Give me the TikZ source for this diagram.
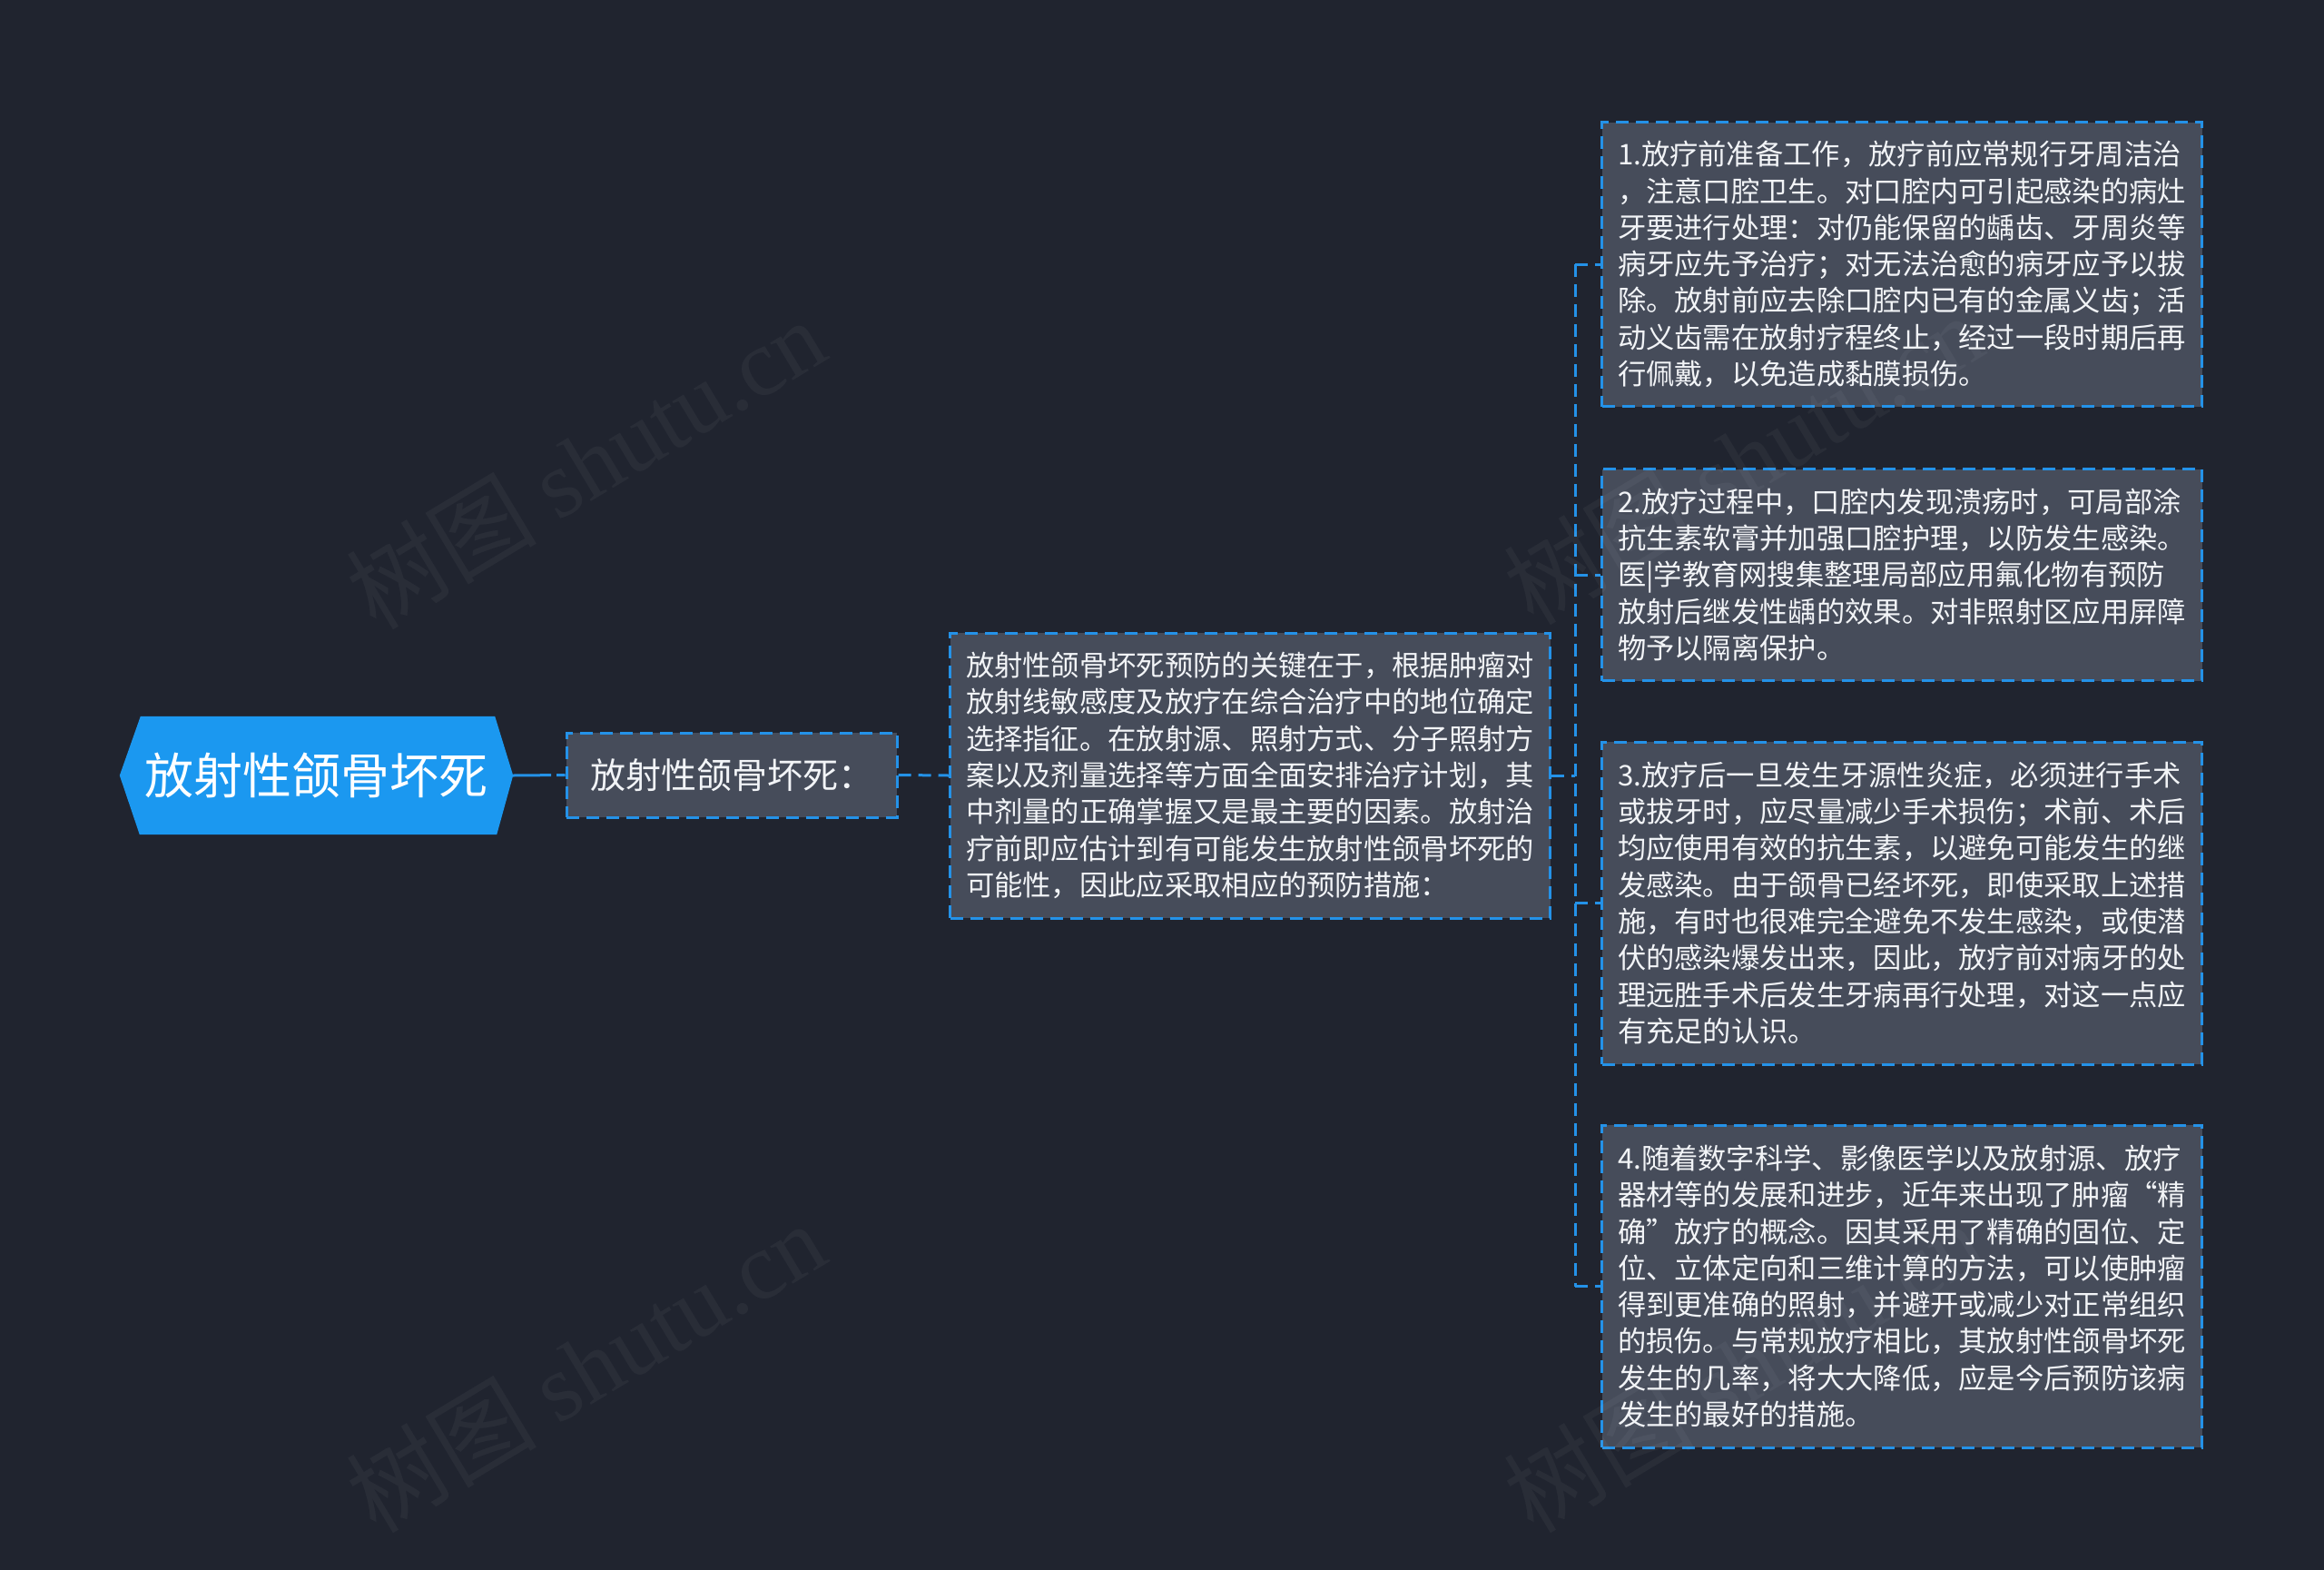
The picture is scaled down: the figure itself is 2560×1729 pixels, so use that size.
\documentclass[tikz,border=0pt]{standalone}
\usepackage{fontspec}
\setmainfont{Noto Sans CJK SC}
\newfontfamily\wmlatin{Liberation Serif}
\usetikzlibrary{backgrounds}
\definecolor{bgc}{RGB}{32,36,47}
\definecolor{boxc}{RGB}{70,76,90}
\definecolor{linec}{RGB}{36,146,232}
\definecolor{rootc}{RGB}{27,152,240}
\definecolor{txtc}{RGB}{242,244,247}
\begin{document}
\begin{tikzpicture}[x=1pt,y=-1pt,
  dashline/.style={draw=linec, line width=3pt, dash pattern=on 14pt off 8pt},
  conn/.style={dashline},
  tbox/.style={dashline, fill=boxc, text=txtc, align=left, inner sep=0pt,
    font=\fontsize{31.3}{40.3}\selectfont, minimum width=661pt},
  rootnode/.style={text=white, inner sep=0pt, font=\fontsize{54}{60}\selectfont,
    minimum width=433pt, minimum height=130pt},
  midbox/.style={dashline, fill=boxc, text=txtc, inner sep=0pt,
    font=\fontsize{39}{44}\selectfont, minimum width=364pt, minimum height=93pt},
  wmark/.style={text=white, opacity=0.045, rotate=31, inner sep=0pt,
    font=\fontsize{105}{110}\selectfont}
]
\useasboundingbox (0,0) rectangle (2560,1729);

% nodes
\node[rootnode] (root) at (348.5,854) {放射性颌骨坏死};
\node[midbox] (n2) at (806,853.5) {放射性颌骨坏死：};
\node[tbox, minimum height=314pt] (n3) at (1377,854) {放射性颌骨坏死预防的关键在于，根据肿瘤对\\
放射线敏感度及放疗在综合治疗中的地位确定\\
选择指征。在放射源、照射方式、分子照射方\\
案以及剂量选择等方面全面安排治疗计划，其\\
中剂量的正确掌握又是最主要的因素。放射治\\
疗前即应估计到有可能发生放射性颌骨坏死的\\
可能性，因此应采取相应的预防措施：};

\node[tbox, minimum height=313pt] (c1) at (2095,291) {1.放疗前准备工作，放疗前应常规行牙周洁治\\
，注意口腔卫生。对口腔内可引起感染的病灶\\
牙要进行处理：对仍能保留的龋齿、牙周炎等\\
病牙应先予治疗；对无法治愈的病牙应予以拔\\
除。放射前应去除口腔内已有的金属义齿；活\\
动义齿需在放射疗程终止，经过一段时期后再\\
行佩戴，以免造成黏膜损伤。};

\node[tbox, minimum height=233pt] (c2) at (2095,633) {2.放疗过程中，口腔内发现溃疡时，可局部涂\\
抗生素软膏并加强口腔护理，以防发生感染。\\
医|学教育网搜集整理局部应用氟化物有预防\\
放射后继发性龋的效果。对非照射区应用屏障\\
物予以隔离保护。};

\node[tbox, minimum height=355pt] (c3) at (2095,994.5) {3.放疗后一旦发生牙源性炎症，必须进行手术\\
或拔牙时，应尽量减少手术损伤；术前、术后\\
均应使用有效的抗生素，以避免可能发生的继\\
发感染。由于颌骨已经坏死，即使采取上述措\\
施，有时也很难完全避免不发生感染，或使潜\\
伏的感染爆发出来，因此，放疗前对病牙的处\\
理远胜手术后发生牙病再行处理，对这一点应\\
有充足的认识。};

\node[tbox, minimum height=355pt] (c4) at (2095,1416.5) {4.随着数字科学、影像医学以及放射源、放疗\\
器材等的发展和进步，近年来出现了肿瘤“精\\
确”放疗的概念。因其采用了精确的固位、定\\
位、立体定向和三维计算的方法，可以使肿瘤\\
得到更准确的照射，并避开或减少对正常组织\\
的损伤。与常规放疗相比，其放射性颌骨坏死\\
发生的几率，将大大降低，应是今后预防该病\\
发生的最好的措施。};

% background and root shape
\begin{scope}[on background layer]
  \fill[bgc] (0,0) rectangle (2560,1729);
  \fill[rootc] (root.west) -- ([xshift=23pt]root.north west) -- ([xshift=-20pt]root.north east)
    -- (root.east) -- ([xshift=-18pt]root.south east) -- ([xshift=22pt]root.south west) -- cycle;
\end{scope}

% connectors
\coordinate (tr) at (1735,854);
\draw[conn, dash pattern=on 42pt off 6pt] (root.east) -- (n2.west);
\draw[conn] (n2.east) -- (n3.west);
\draw[conn] (n3.east) -- (tr);
\draw[conn] (tr |- c1.west) -- (tr |- c4.west);
\draw[conn] (tr |- c1.west) -- (c1.west);
\draw[conn] (tr |- c2.west) -- (c2.west);
\draw[conn] (tr |- c3.west) -- (c3.west);
\draw[conn] (tr |- c4.west) -- (c4.west);

% watermarks
\node[wmark] (wm1) at (645,510) {树图 {\wmlatin shutu.cn}};
\node[wmark] (wm2) at (645,1505) {树图 {\wmlatin shutu.cn}};
\node[wmark] (wm3) at (1920,505) {树图 {\wmlatin shutu.cn}};
\node[wmark] (wm4) at (1920,1505) {树图 {\wmlatin shutu.cn}};
\end{tikzpicture}
\end{document}
